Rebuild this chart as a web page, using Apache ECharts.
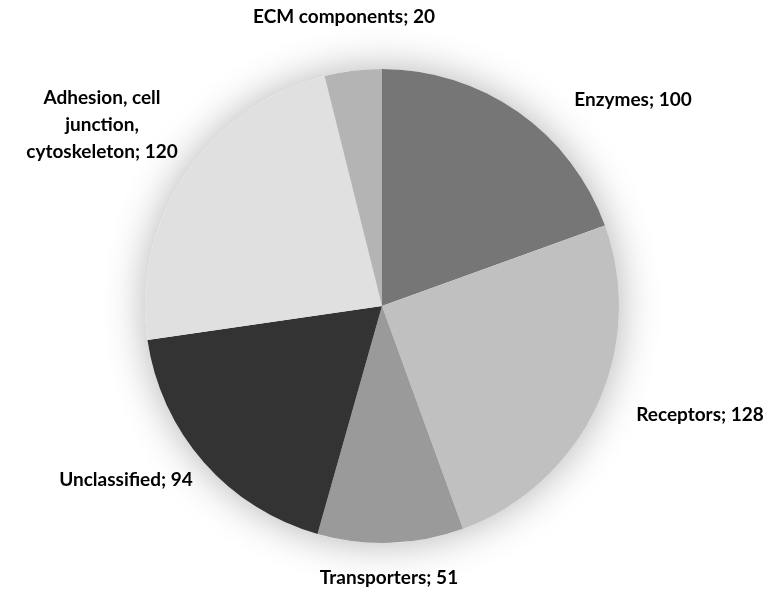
<!DOCTYPE html>
<html><head><meta charset="utf-8">
<script src="https://cdn.jsdelivr.net/npm/echarts@6/dist/echarts.min.js"></script>
<style>html,body{margin:0;padding:0;background:#fff}#c{width:772px;height:593px}</style>
</head><body><div id="c"></div>
<script>
const categories = ['Enzymes', 'Receptors', 'Transporters', 'Unclassified', 'Adhesion, cell\njunction,\ncytoskeleton', 'ECM components'];
const values = [100, 128, 51, 94, 120, 20];
const colors = ['#767676', '#c0c0c0', '#9a9a9a', '#333333', '#e0e0e0', '#b4b4b4'];
const labelPos = [[633, 100], [700, 415], [389, 578], [126, 480], [102, 125], [344, 17]];

const chart = echarts.init(document.getElementById('c'));
chart.setOption({
  animation: false,
  series: [
    {
      type: 'pie', silent: true, center: [382, 306], radius: 237, z: 1,
      label: {show: false}, labelLine: {show: false},
      itemStyle: {color: '#fff', shadowBlur: 40, shadowColor: 'rgba(0,0,0,0.3)'},
      data: [{value: 1, name: ''}]
    },
    {
      type: 'pie', center: [382, 306], radius: 237, startAngle: 90, clockwise: true, z: 2,
      label: {
        show: true, position: 'outside', formatter: '{b}; {c}', overflow: 'none', width: 300,
        fontFamily: 'Lato', fontWeight: 'bold', fontSize: 19, color: '#000', lineHeight: 27, align: 'center'
      },
      labelLine: {show: false},
      labelLayout: function (p) {
        const pos = labelPos[p.dataIndex];
        return {x: pos[0], y: pos[1], align: 'center', verticalAlign: 'middle'};
      },
      data: categories.map((c, i) => ({name: c, value: values[i], itemStyle: {color: colors[i]}}))
    }
  ]
});
</script></body></html>
